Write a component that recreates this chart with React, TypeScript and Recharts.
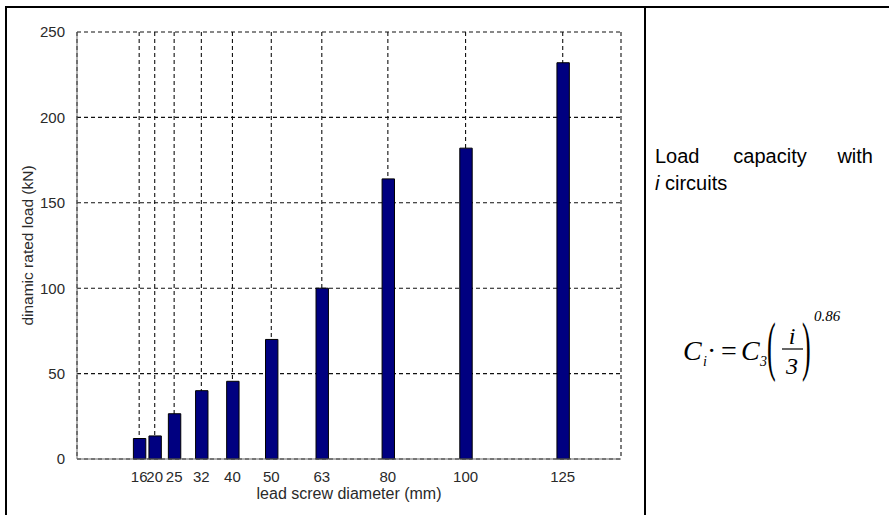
import { BarChart, Bar, XAxis, YAxis, CartesianGrid } from 'recharts';

const diameters = [16, 20, 25, 32, 40, 50, 63, 80, 100, 125];
const loads = [12, 13.5, 26.5, 40, 45.5, 70, 100, 164, 182, 232];
const yTicks = [0, 50, 100, 150, 200, 250];

const data = diameters.map((d, i) => ({ d, load: loads[i] }));

const axisFont = { fontFamily: 'Arial, "Liberation Sans", sans-serif', fontSize: 15, fill: '#2a2a2a' };

function YTitle(props: any) {
  const { x, y, height } = props.viewBox;
  const cx = x + 10;
  const cy = y + height / 2;
  return (
    <text
      x={cx}
      y={cy}
      transform={`rotate(-90 ${cx} ${cy})`}
      textAnchor="middle"
      dominantBaseline="central"
      style={{ ...axisFont, fontSize: 15.5 }}
    >
      dinamic rated load (kN)
    </text>
  );
}

function XTitle(props: any) {
  const { x, y, width } = props.viewBox;
  return (
    <text x={x + width / 2} y={y + 40} textAnchor="middle" style={{ ...axisFont, fontSize: 16 }}>
      lead screw diameter (mm)
    </text>
  );
}

function SidePanel() {
  const serif = '"Liberation Serif", "Times New Roman", serif';
  const sans = 'Arial, "Liberation Sans", sans-serif';
  return (
    <svg width={889} height={515} style={{ position: 'absolute', left: 0, top: 0, pointerEvents: 'none' }}>
      {/* table borders */}
      <line x1={5} y1={7} x2={889} y2={7} stroke="#000" strokeWidth={2} />
      <line x1={6} y1={6} x2={6} y2={515} stroke="#000" strokeWidth={2} />
      <line x1={645} y1={6} x2={645} y2={515} stroke="#000" strokeWidth={2} />

      <g style={{ fontFamily: sans, fontSize: 20 }} fill="#000">
        <text x={655} y={163}>Load</text>
        <text x={770} y={163} textAnchor="middle">capacity</text>
        <text x={873} y={163} textAnchor="end">with</text>
        <text x={655} y={190}>
          <tspan fontStyle="italic">i</tspan> circuits
        </text>
      </g>

      <g style={{ fontFamily: serif }} fill="#000" fontStyle="italic">
        <text x={683} y={360} fontSize={28}>C</text>
        <text x={703} y={366} fontSize={14}>i</text>
        <text x={707} y={360} fontSize={28} fontStyle="normal">·</text>
        <text x={721} y={360} fontSize={28} fontStyle="normal">=</text>
        <text x={741} y={360} fontSize={28}>C</text>
        <text x={760} y={366} fontSize={14}>3</text>
        <text transform="translate(767 368) scale(1 2.5)" fontSize={26} fontStyle="normal">(</text>
        <text x={792} y={344} fontSize={24} textAnchor="middle">i</text>
        <line x1={782} y1={349} x2={803} y2={349} stroke="#000" strokeWidth={1.2} />
        <text x={792} y={374} fontSize={24} textAnchor="middle">3</text>
        <text transform="translate(802 368) scale(1 2.5)" fontSize={26} fontStyle="normal">)</text>
        <text x={814} y={321} fontSize={15}>0.86</text>
      </g>
    </svg>
  );
}

export default function App() {
  return (
    <div style={{ position: 'absolute', left: 0, top: 0, width: 889, height: 515, background: '#fff' }}>
      <BarChart
        width={645}
        height={515}
        data={data}
        margin={{ top: 32, right: 24, left: 17, bottom: 0 }}
      >
        <CartesianGrid stroke="#111" strokeDasharray="4 3" strokeWidth={1.1} />
        <XAxis
          dataKey="d"
          type="number"
          domain={[0, 140]}
          ticks={diameters}
          interval={0}
          allowDataOverflow
          height={56}
          tickLine={false}
          tickMargin={6}
          axisLine={{ stroke: '#666' }}
          tick={axisFont}
          label={<XTitle />}
        />
        <XAxis xAxisId="top" orientation="top" dataKey="d" type="number" domain={[0, 140]} height={0} tick={false} tickLine={false} axisLine={{ stroke: '#666' }} />
        <YAxis
          domain={[0, 250]}
          ticks={yTicks}
          interval={0}
          width={60}
          tickLine={false}
          tickMargin={6}
          axisLine={{ stroke: '#666' }}
          tick={axisFont}
          label={<YTitle />}
        />
        <YAxis yAxisId="right" orientation="right" domain={[0, 250]} width={0} tick={false} tickLine={false} axisLine={{ stroke: '#666' }} />
        <Bar dataKey="load" fill="#000080" stroke="#000" strokeWidth={1} barSize={12.4} isAnimationActive={false} />
      </BarChart>
      <SidePanel />
    </div>
  );
}
